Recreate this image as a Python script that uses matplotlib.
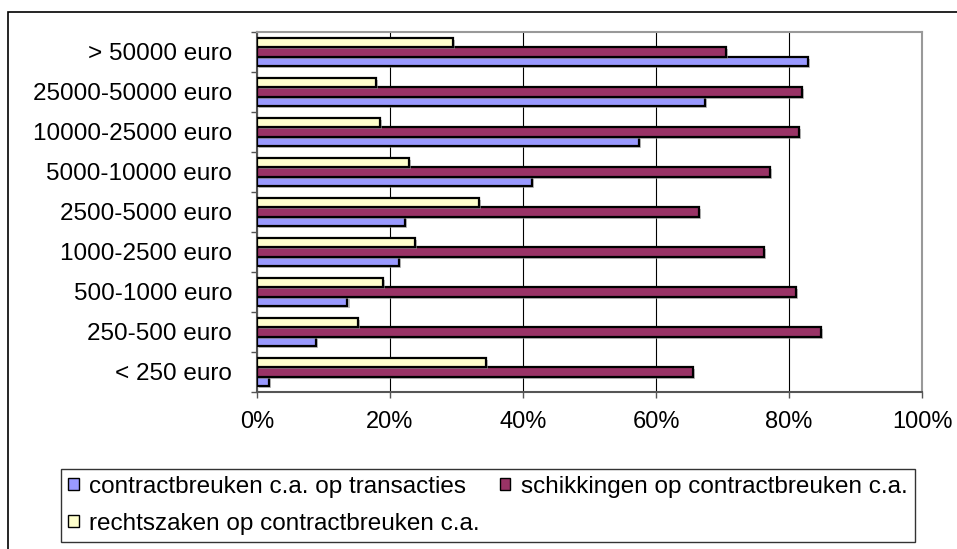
import matplotlib.pyplot as plt
import numpy as np
from matplotlib.patches import Patch, Rectangle
from matplotlib.ticker import PercentFormatter
import matplotlib.patheffects as pe

plt.rcParams['font.family'] = ['Liberation Sans', 'DejaVu Sans']

# data (bottom to top, as drawn)
categories = ['< 250 euro', '250-500 euro', '500-1000 euro', '1000-2500 euro',
              '2500-5000 euro', '5000-10000 euro', '10000-25000 euro',
              '25000-50000 euro', '> 50000 euro']
contractbreuken = [1.8, 8.8, 13.6, 21.3, 22.2, 41.3, 57.4, 67.4, 82.9]
schikkingen = [65.6, 84.8, 81.1, 76.3, 66.5, 77.2, 81.5, 82.0, 70.5]
rechtszaken = [34.4, 15.2, 18.9, 23.7, 33.4, 22.8, 18.5, 17.9, 29.4]
series_names = ['contractbreuken c.a. op transacties',
                'schikkingen op contractbreuken c.a.',
                'rechtszaken op contractbreuken c.a.']
colors = ['#9999FF', '#993366', '#FFFFCC']

W, H = 957, 549
fig = plt.figure(figsize=(W / 100, H / 100), dpi=100)
ax = fig.add_axes([257 / W, 1 - 392 / H, 665 / W, 360 / H])

# outer chart border (only left and top fall inside the image)
fig.patches.append(Rectangle((8 / W, -0.05), 1.0, 1 - 12 / H + 0.05,
                             transform=fig.transFigure, fill=False,
                             edgecolor='black', linewidth=1.2, zorder=0))

y = np.arange(len(categories))
h = 0.23
shadow = [pe.SimplePatchShadow(offset=(1.5, -1.5), shadow_rgbFace='#999999', alpha=0.6),
          pe.Normal()]
for vals, off, c in zip([contractbreuken, schikkingen, rechtszaken], [-h, 0, h], colors):
    bars = ax.barh(y + off, vals, height=h, color=c, edgecolor='black',
                   linewidth=1.6, zorder=3)
    for b in bars:
        b.set_path_effects(shadow)

ax.set_xlim(0, 100)
ax.set_ylim(-0.5, len(categories) - 0.5)
ax.set_xticks(np.arange(0, 101, 20))
ax.xaxis.set_major_formatter(PercentFormatter(decimals=0))
ax.set_yticks(y)
ax.set_yticklabels(categories)
ax.set_yticks(np.arange(-0.5, len(categories)), minor=True)
ax.tick_params(axis='y', which='major', length=0, pad=18, labelsize=17.5)
ax.tick_params(axis='y', which='minor', length=4, width=1, color='#555555', direction='out')
ax.tick_params(axis='x', length=4, width=1, color='#555555', direction='out', pad=10, labelsize=17)
ax.grid(axis='x', color='black', linewidth=0.8, zorder=0)

for s in ['top', 'right']:
    ax.spines[s].set_color('#999999')
    ax.spines[s].set_linewidth(1.5)
for s in ['left', 'bottom']:
    ax.spines[s].set_color('#555555')
    ax.spines[s].set_linewidth(1.5)

handles = [Patch(facecolor=c, edgecolor='black', linewidth=1) for c in colors]
order = [0, 2, 1]
leg = fig.legend([handles[i] for i in order], [series_names[i] for i in order],
                 loc='center', bbox_to_anchor=(61 / W, 1 - 547 / H, 854 / W, 83 / H),
                 mode='expand', ncol=2, frameon=True, fancybox=False, edgecolor='black',
                 fontsize=17.5, handlelength=0.42, handleheight=0.38, handletextpad=0.45,
                 columnspacing=1.0, labelspacing=0.62, borderpad=0.3, borderaxespad=0)
leg.get_frame().set_linewidth(1.0)

fig.savefig('out.png', dpi=100)
